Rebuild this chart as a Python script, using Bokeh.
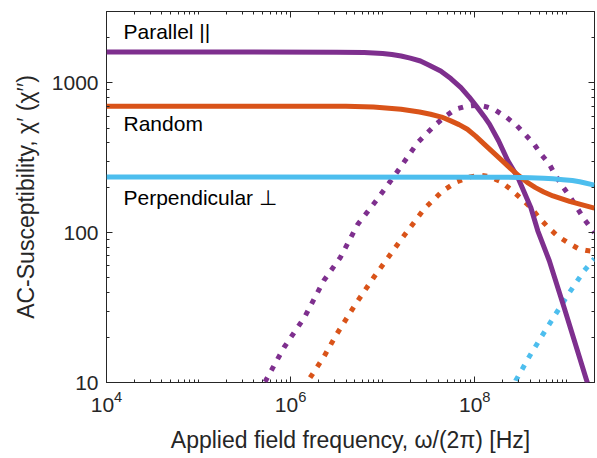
from bokeh.plotting import figure
from bokeh.models import LogAxis, FixedTicker, Range1d, Label, ColumnDataSource
from bokeh.embed import file_html
from bokeh.resources import INLINE

# ---------------- data (log10 of frequency in Hz, susceptibility) ----------------
par_real_logf = [4.0, 6.5, 6.8, 7.0, 7.1, 7.2, 7.3, 7.41, 7.5, 7.63, 7.74, 7.85, 7.94, 8.03, 8.1, 8.16, 8.26, 8.36, 8.47, 8.61, 8.685, 8.81, 8.97, 9.21, 9.26]
par_real = [1610, 1605, 1595, 1575, 1550, 1514, 1465, 1402, 1320, 1202, 1070, 931, 805, 684, 600, 531, 410, 302, 233, 147, 103, 65, 31.8, 10.6, 8.5]

par_imag_logf = [5.65, 5.73, 5.93, 6.15, 6.36, 6.54, 6.73, 6.95, 7.14, 7.38, 7.58, 7.69, 7.79, 7.88, 7.96, 8.05, 8.13, 8.22, 8.35, 8.46, 8.55, 8.645, 8.72, 8.81, 8.88, 8.95, 9.04, 9.12, 9.19, 9.26, 9.30]
par_imag = [8.5, 10.3, 17.2, 27.2, 47.9, 68.4, 114, 170, 246, 400, 531, 603, 668, 692, 705, 710, 692, 660, 587, 517, 452, 390, 335, 287, 240, 206, 172, 144, 123, 108, 100]

rand_real_logf = [4.0, 6.6, 6.9, 7.2, 7.4, 7.52, 7.64, 7.74, 7.83, 7.92, 8.01, 8.1, 8.2, 8.3, 8.39, 8.48, 8.57, 8.66, 8.75, 8.85, 9.03, 9.3]
rand_real = [700, 699, 692, 668, 640, 618, 592, 558, 527, 491, 442, 392, 344, 302, 268, 240, 217, 200, 187, 176, 162, 146]

rand_imag_logf = [6.15, 6.2, 6.36, 6.5, 6.7, 6.9, 7.2, 7.45, 7.65, 7.8, 7.95, 8.05, 8.15, 8.28, 8.39, 8.5, 8.61, 8.7, 8.79, 8.9, 9.01, 9.13, 9.22, 9.3]
rand_imag = [9.0, 10.5, 14.8, 21, 33, 50, 90, 144, 190, 218, 236, 242, 238, 220, 195, 170, 147, 126, 110, 95, 86, 78, 76, 75]

perp_real_logf = [4.0, 8.3, 8.6, 8.75, 8.85, 8.96, 9.06, 9.14, 9.2, 9.3]
perp_real = [236, 235, 233, 231, 229, 226, 223, 219, 215, 208]

perp_imag_logf = [8.40, 8.446, 8.59, 8.72, 8.88, 9.03, 9.19, 9.28, 9.30]
perp_imag = [8.5, 10.3, 14.8, 20, 28.7, 40, 55.8, 65, 67]

labels = ["Parallel ||", "Random", "Perpendicular \u22a5"]
label_x = [1.53e4, 1.53e4, 1.53e4]
label_y = [2190, 533, 171]

x_major = [1e4, 1e6, 1e8]
y_major = [10, 100, 1000]

PURPLE = "#7E2F8E"
ORANGE = "#D95319"
BLUE = "#4DBEEE"
AXC = "#262626"
FONT = "Liberation Sans"

x_minor = [m * 10 ** e for e in range(4, 10) for m in range(1, 10) if m * 10 ** e <= 2e9]
y_minor = [m * 10 ** e for e in range(1, 4) for m in range(1, 10) if m * 10 ** e <= 3000]

p = figure(x_axis_type="log", y_axis_type="log",
           x_range=Range1d(1e4, 2e9), y_range=Range1d(10, 3000),
           frame_width=488, frame_height=371,
           min_border_left=106, min_border_right=2, min_border_top=11, min_border_bottom=60,
           output_backend="svg", toolbar_location=None)

p.xgrid.visible = False
p.ygrid.visible = False
p.outline_line_color = AXC
p.outline_line_width = 1
p.background_fill_color = "white"
p.border_fill_color = "white"


def src(lf, v):
    return ColumnDataSource(dict(x=[10 ** a for a in lf], y=v))


series = [
    (par_imag_logf, par_imag, PURPLE, True),
    (rand_imag_logf, rand_imag, ORANGE, True),
    (perp_imag_logf, perp_imag, BLUE, True),
    (par_real_logf, par_real, PURPLE, False),
    (rand_real_logf, rand_real, ORANGE, False),
    (perp_real_logf, perp_real, BLUE, False),
]
for lf, v, c, dotted in series:
    if dotted:
        p.line("x", "y", source=src(lf, v), line_color=c, line_width=5,
               line_dash="5 8", line_cap="butt", line_join="round")
    else:
        p.line("x", "y", source=src(lf, v), line_color=c, line_width=5,
               line_cap="butt", line_join="round")

for t, lx, ly in zip(labels, label_x, label_y):
    p.add_layout(Label(x=lx, y=ly, text=t, text_baseline="middle", text_align="left",
                       text_font=FONT, text_font_size="21px", text_color="black"))


def style(ax, ticks, minors, show):
    ax.ticker = FixedTicker(ticks=ticks, minor_ticks=minors)
    ax.axis_line_color = None
    ax.major_tick_line_color = AXC
    ax.minor_tick_line_color = AXC
    ax.major_tick_in = 6
    ax.major_tick_out = 0
    ax.minor_tick_in = 3
    ax.minor_tick_out = 0
    ax.major_label_text_font = FONT
    ax.major_label_text_color = AXC
    if show:
        ax.major_label_text_font_size = "21px"
        ax.major_label_standoff = 8
        ax.axis_label_text_font = FONT
        ax.axis_label_text_font_size = "23px"
        ax.axis_label_text_font_style = "normal"
        ax.axis_label_text_color = AXC
    else:
        ax.major_label_text_font_size = "1px"
        ax.major_label_text_color = None
        ax.major_label_standoff = 0


xa = p.xaxis[0]
ya = p.yaxis[0]
style(xa, x_major, x_minor, True)
style(ya, y_major, y_minor, True)
xa.axis_label = "Applied field frequency, \u03c9/(2\u03c0) [Hz]"
ya.axis_label = "AC-Susceptibility, \u03c7\u2032 (\u03c7\u2032\u2032)"
xa.axis_label_standoff = 12
ya.axis_label_standoff = 10
ya.major_label_overrides = {10: "10", 100: "100", 1000: "1000"}

top = LogAxis()
right = LogAxis()
style(top, x_major, x_minor, False)
style(right, y_major, y_minor, False)
p.add_layout(top, "above")
p.add_layout(right, "right")

open("out.html", "w").write(file_html(p, INLINE))
